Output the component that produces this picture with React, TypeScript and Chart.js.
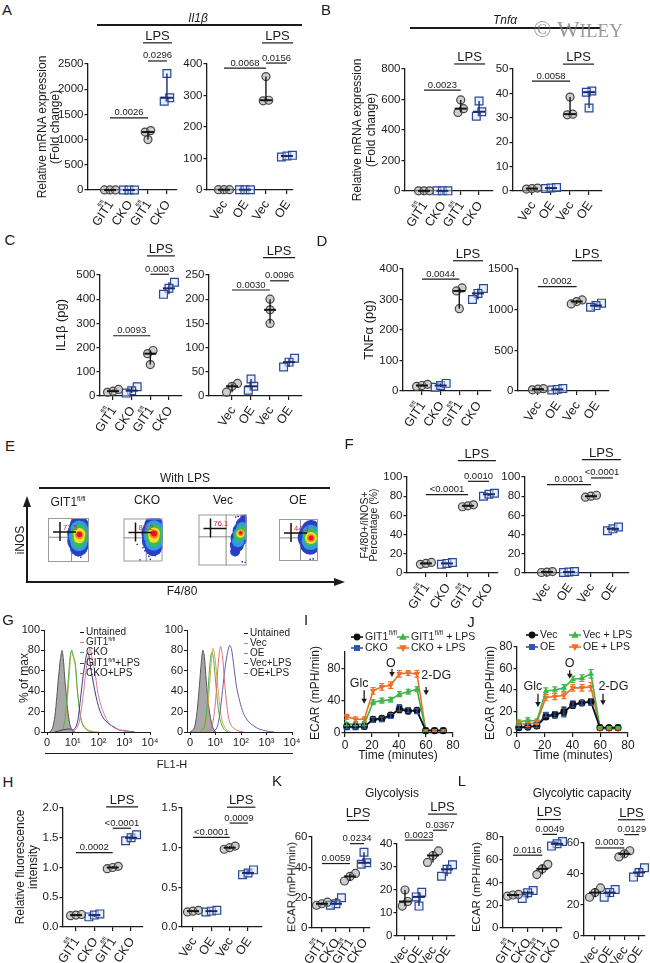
import React, { useEffect, useRef } from "react";
import { Chart, registerables } from "chart.js";

Chart.register(...registerables);

const FONT = "'Liberation Sans', Arial, Helvetica, sans-serif";
const INK = "#1b1b1b";

/* ================= category labels ================= */
const GIT_CATS = ["GIT1^fl/fl", "CKO", "GIT1^fl/fl", "CKO"];
const VEC_CATS = ["Vec", "OE", "Vec", "OE"];

/* ================= dot plots (3 replicates / group) ================= */
// A  Il1b mRNA
const A_GIT = [[1, 1, 1], [1, 1, 1], [1000, 1150, 1180], [2310, 1830, 1760]];
const A_VEC = [[1, 1, 1], [1, 1, 1], [360, 283, 285], [105, 108, 110]];
const A_GIT_P = [{ a: 0, b: 2, y: 1430, t: "0.0026" }, { a: 2, b: 3, y: 2560, t: "0.0296" }, { a: 1.74, b: 3.26, y: 2920, t: "LPS" }];
const A_VEC_P = [{ a: 0, b: 2, y: 387, t: "0.0068" }, { a: 2, b: 3, y: 403, t: "0.0156" }, { a: 1.81, b: 3.29, y: 467, t: "LPS" }];
// B  Tnfa mRNA
const B_GIT = [[1, 1, 1], [1, 1, 1], [597, 540, 515], [590, 520, 490]];
const B_VEC = [[0.8, 1, 1.2], [1, 1.2, 1.4], [38.5, 31.2, 31.5], [41, 40.5, 34]];
const B_GIT_P = [{ a: 0, b: 2, y: 662, t: "0.0023" }, { a: 1.64, b: 3.33, y: 833, t: "LPS" }];
const B_VEC_P = [{ a: 0, b: 2, y: 45, t: "0.0058" }, { a: 1.63, b: 3.26, y: 52, t: "LPS" }];
// C  IL1b (pg)
const C_GIT = [[15, 20, 27], [38, 22, 12], [188, 175, 130], [470, 445, 420]];
const C_VEC = [[26, 20, 8], [35, 20, 12], [200, 178, 150], [78, 70, 60]];
const C_GIT_P = [{ a: 0, b: 2, y: 249, t: "0.0093" }, { a: 2, b: 3, y: 503, t: "0.0003" }, { a: 1.82, b: 3.32, y: 579, t: "LPS" }];
const C_VEC_P = [{ a: 0, b: 2, y: 219, t: "0.0030" }, { a: 2, b: 3, y: 238, t: "0.0096" }, { a: 1.63, b: 3.32, y: 286, t: "LPS" }];
// D  TNFa (pg)
const D_GIT = [[15, 18, 22], [12, 18, 25], [338, 328, 270], [336, 320, 300]];
const D_VEC = [[15, 22, 28], [12, 20, 30], [1120, 1100, 1070], [1080, 1050, 1030]];
const D_GIT_P = [{ a: 0, b: 2, y: 367, t: "0.0044" }, { a: 1.66, b: 3.27, y: 427, t: "LPS" }];
const D_VEC_P = [{ a: 0, b: 2, y: 1283, t: "0.0002" }, { a: 1.76, b: 3.31, y: 1602, t: "LPS" }];
// F  F4/80+ iNOS+ percentage
const F_GIT = [[9, 10, 11], [9, 10, 11], [69, 70, 71], [80, 82, 83]];
const F_VEC = [[0.5, 1, 1.5], [0.5, 1, 1.5], [79, 80, 81], [44, 46, 48]];
const F_GIT_P = [{ a: 0, b: 2, y: 81.7, t: "<0.0001" }, { a: 2, b: 3, y: 95.5, t: "0.0010" }, { a: 1.52, b: 3.33, y: 117, t: "LPS" }];
const F_VEC_P = [{ a: 0, b: 2, y: 92, t: "0.0001" }, { a: 2, b: 3, y: 99, t: "<0.0001" }, { a: 1.59, b: 3.36, y: 118, t: "LPS" }];
// H  relative fluorescence
const H_GIT = [[0.19, 0.2, 0.21], [0.17, 0.2, 0.22], [0.98, 1.0, 1.02], [1.45, 1.5, 1.55]];
const H_VEC = [[0.19, 0.2, 0.21], [0.19, 0.2, 0.21], [0.98, 1.0, 1.02], [0.66, 0.68, 0.72]];
const H_GIT_P = [{ a: 0, b: 2, y: 1.25, t: "0.0002" }, { a: 2, b: 3, y: 1.66, t: "<0.0001" }, { a: 1.64, b: 3.38, y: 2.02, t: "LPS" }];
const H_VEC_P = [{ a: 0, b: 2, y: 1.13, t: "<0.0001" }, { a: 2, b: 3, y: 1.31, t: "0.0009" }, { a: 1.85, b: 3.4, y: 1.51, t: "LPS" }];
// K  glycolysis
const K_GIT = [[15, 16, 17], [20, 16, 15], [36, 34, 31], [50, 43, 42]];
const K_VEC = [[20, 15, 13], [19, 17, 13], [37, 35, 32], [31, 29, 26]];
const K_GIT_P = [{ a: 0, b: 2, y: 42.5, t: "0.0059" }, { a: 2, b: 3, y: 55.6, t: "0.0234" }, { a: 1.79, b: 3.36, y: 70.9, t: "LPS" }];
const K_VEC_P = [{ a: 0, b: 2, y: 41.7, t: "0.0023" }, { a: 2, b: 3, y: 46, t: "0.0367" }, { a: 1.64, b: 3.71, y: 53, t: "LPS" }];
// L  glycolytic capacity
const L_GIT = [[28, 29, 29.5], [33, 31, 26], [56, 52, 47], [76, 74, 72]];
const L_VEC = [[31, 28, 25], [30, 28, 25], [55, 53, 51], [44, 41, 38]];
const L_GIT_P = [{ a: 0, b: 2, y: 64, t: "0.0116" }, { a: 2, b: 3, y: 82.3, t: "0.0049" }, { a: 1.64, b: 3.27, y: 95.4, t: "LPS" }];
const L_VEC_P = [{ a: 0, b: 2, y: 56.8, t: "0.0003" }, { a: 2, b: 3, y: 65.4, t: "0.0129" }, { a: 1.57, b: 3.41, y: 75, t: "LPS" }];

/* ================= I / J : Seahorse ECAR ================= */
const SEAHORSE_TIME = [1.3, 7.8, 14.3, 20.8, 27.3, 33.8, 40.3, 46.8, 53.3, 59.8, 66.3, 72.8];
const I_GIT = [8, 8, 8, 17, 18, 22, 29, 27, 28, 3, 3, 3];
const I_CKO = [7, 7, 8, 16, 17, 21, 31, 28, 27, 3, 3, 3];
const I_GIT_LPS = [11, 11, 11, 38, 40, 41, 48, 51, 54, 3, 3, 3];
const I_CKO_LPS = [20, 17, 17, 52, 57, 59, 73, 74, 73, 3, 3, 3];
const I_GIT_SD = [2, 2, 2, 3, 3, 3, 4, 3, 3, 1, 1, 1];
const I_CKO_SD = [2, 2, 2, 3, 3, 3, 4, 3, 3, 1, 1, 1];
const I_GIT_LPS_SD = [2, 2, 2, 3, 3, 3, 3, 3, 3, 1, 1, 1];
const I_CKO_LPS_SD = [3, 3, 3, 4, 4, 4, 4, 3, 4, 1, 1, 1];
const J_VEC = [5, 5.5, 6.5, 15, 17, 20, 26, 28, 29, 5, 5, 5];
const J_OE = [6, 6, 7, 17, 17, 19, 27, 28, 29, 5, 4.5, 5];
const J_VEC_LPS = [10, 12, 11, 39, 40, 42, 50, 51, 55, 5, 5, 5];
const J_OE_LPS = [9, 8, 10, 33, 34, 35, 42, 42, 43, 4, 4, 4];
const J_VEC_SD = [2, 2, 2, 2, 3, 4, 3, 2, 3, 1, 1, 1];
const J_OE_SD = [2, 2, 2, 2, 3, 4, 3, 2, 3, 1, 1, 1];
const J_VEC_LPS_SD = [2, 2, 2, 3, 3, 3, 3, 3, 4, 1, 1, 1];
const J_OE_LPS_SD = [2, 2, 2, 3, 3, 3, 3, 3, 4, 1, 1, 1];
const I_NOTES = [
  { t: "Glc", x: 14.2, y0: 52.7, y1: 36.2, tx: 10.4, ty: 61 },
  { t: "O", x: 34.8, y0: 79.4, y1: 69.1, tx: 34, ty: 85.6 },
  { t: "2-DG", x: 60.1, y0: 56.8, y1: 46.5, tx: 67.6, ty: 71.2 },
];
const J_NOTES = [
  { t: "Glc", x: 15.1, y0: 36.6, y1: 24.2, tx: 11.5, ty: 42.8 },
  { t: "O", x: 38, y0: 58.3, y1: 50.5, tx: 38, ty: 64.5 },
  { t: "2-DG", x: 62, y0: 36.6, y1: 25.7, tx: 69.5, ty: 42.8 },
];

/* ================= G : FL1-H histograms (x = log10 decade) ================= */
const G_TICKS = [0, 1, 2, 3, 4];
const G_TICK_LABELS = ["0", "10¹", "10²", "10³", "10⁴"];
const G_L_UNST = [[0.1, 0], [0.2, 3], [0.3, 15], [0.38, 35], [0.45, 55], [0.52, 72], [0.58, 80], [0.63, 72], [0.68, 55], [0.75, 35], [0.82, 18], [0.9, 6], [1.0, 1], [1.1, 0]];
const G_L_GIT = [[0.5, 0], [0.6, 2], [0.7, 10], [0.8, 35], [0.88, 62], [0.95, 80], [1.02, 75], [1.08, 70], [1.15, 48], [1.25, 25], [1.35, 10], [1.5, 4], [1.7, 1], [2.0, 0]];
const G_L_CKO = [[0.5, 0], [0.62, 3], [0.72, 18], [0.82, 50], [0.9, 75], [0.96, 80], [1.03, 72], [1.1, 66], [1.18, 40], [1.28, 18], [1.4, 6], [1.6, 1], [1.8, 0]];
const G_L_GIT_LPS = [[0.3, 0], [0.6, 2], [0.9, 3], [1.0, 2], [1.1, 4], [1.2, 12], [1.3, 33], [1.4, 55], [1.48, 68], [1.55, 77], [1.62, 76], [1.7, 62], [1.8, 48], [1.9, 35], [2.0, 25], [2.1, 18], [2.2, 13], [2.4, 8], [2.6, 5], [2.8, 2], [3.1, 1], [3.4, 0]];
const G_L_CKO_LPS = [[0.9, 0], [1.1, 2], [1.25, 10], [1.4, 35], [1.5, 58], [1.58, 72], [1.67, 82], [1.75, 72], [1.86, 59], [1.95, 42], [2.05, 30], [2.15, 22], [2.3, 13], [2.5, 6], [2.7, 3], [3.0, 1], [3.3, 0]];
const G_R_UNST = [[0.0, 0], [0.15, 3], [0.25, 15], [0.35, 40], [0.42, 62], [0.5, 80], [0.56, 74], [0.62, 55], [0.7, 32], [0.8, 14], [0.9, 4], [1.0, 0]];
const G_R_VEC = [[0.4, 0], [0.55, 2], [0.65, 12], [0.75, 40], [0.83, 68], [0.9, 82], [0.97, 74], [1.05, 55], [1.15, 30], [1.25, 12], [1.4, 3], [1.6, 0]];
const G_R_OE = [[0.4, 0], [0.55, 4], [0.65, 20], [0.73, 50], [0.8, 72], [0.86, 78], [0.93, 70], [1.0, 50], [1.1, 25], [1.2, 10], [1.35, 2], [1.5, 0]];
const G_R_VEC_LPS = [[0.9, 0], [1.05, 4], [1.15, 15], [1.25, 35], [1.35, 58], [1.45, 75], [1.55, 85], [1.62, 82], [1.72, 64], [1.82, 45], [1.95, 30], [2.1, 18], [2.3, 10], [2.5, 6], [2.7, 3], [3.0, 1], [3.3, 0]];
const G_R_OE_LPS = [[0.6, 0], [0.8, 3], [0.9, 10], [1.0, 30], [1.08, 58], [1.15, 78], [1.2, 84], [1.27, 75], [1.35, 50], [1.45, 25], [1.55, 10], [1.7, 4], [1.9, 1], [2.1, 0]];
const G_L_LEGEND = ["Untained", "GIT1^fl/fl", "CKO", "GIT1^fl/fl^+LPS", "CKO+LPS"];
const G_R_LEGEND = ["Untained", "Vec", "OE", "Vec+LPS", "OE+LPS"];
const G_L_COLORS = ["#111111", "#e8866a", "#2fa57a", "#3a3a80", "#d4607a"];
const G_R_COLORS = ["#111111", "#e0873e", "#3aa66a", "#3a3a8a", "#e03a3a"];
const G_L_CURVE_COLORS = ["#555555", "#d9b13c", "#4caf50", "#3a3a88", "#d77a95"];
const G_R_CURVE_COLORS = ["#555555", "#d9a53c", "#4caf50", "#6a5aa8", "#d9707a"];

/* ================= E : flow density clouds [x, y, radius, level] ================= */
const E_TITLES = ["GIT1^fl/fl", "CKO", "Vec", "OE"];
const E_PCT = ["71.5", "83.2", "76.1", "44.3"];
const E_GATES = [[2.3, 2.25], [2.33, 2.2], [2.3, 2.25], [2.2, 2.2]];
const E_GIT_CLOUD = [
  [3.05, 3.25, 10, 0], [3.05, 2.6, 12, 0], [3.05, 1.95, 12, 0], [3.0, 1.35, 9, 0], [2.95, 0.95, 5, 0], [3.1, 3.6, 6, 0],
  [3.05, 2.95, 9, 1], [3.05, 2.35, 10.5, 1], [3.02, 1.75, 8.5, 1],
  [3.05, 2.75, 7.5, 2], [3.05, 2.25, 8, 2], [3.02, 1.85, 6, 2],
  [3.06, 2.55, 6, 3], [3.04, 2.2, 5.5, 3],
  [3.06, 2.45, 4.2, 4],
  [3.06, 2.5, 2.8, 5],
];
const E_CKO_CLOUD = [
  [3.12, 3.3, 10, 0], [3.12, 2.65, 12.5, 0], [3.12, 1.95, 12, 0], [3.08, 1.35, 9, 0], [3.0, 0.95, 5, 0], [3.2, 3.65, 6, 0],
  [3.12, 3.0, 9, 1], [3.12, 2.4, 10.5, 1], [3.1, 1.8, 8.5, 1],
  [3.13, 2.8, 7.5, 2], [3.13, 2.3, 8, 2], [3.1, 1.9, 6, 2],
  [3.13, 2.6, 6, 3], [3.12, 2.25, 5.5, 3],
  [3.13, 2.55, 4.5, 4],
  [3.13, 2.6, 3, 5],
];
const E_VEC_CLOUD = [
  [3.05, 1.1, 5, 0], [3.2, 1.6, 7, 0], [3.38, 2.15, 8.5, 0], [3.55, 2.7, 8.5, 0], [3.72, 3.2, 7.5, 0], [3.88, 3.65, 5, 0],
  [3.3, 1.9, 6, 1], [3.48, 2.45, 7, 1], [3.65, 2.95, 6, 1],
  [3.42, 2.3, 5.5, 2], [3.58, 2.75, 5, 2],
  [3.5, 2.5, 4.2, 3],
  [3.52, 2.55, 3, 4],
  [3.52, 2.55, 1.8, 5],
];
const E_OE_CLOUD = [
  [3.3, 2.95, 10, 0], [3.25, 2.25, 13, 0], [3.2, 1.55, 10, 0], [2.7, 2.1, 6, 0], [3.8, 2.5, 8, 0], [3.3, 3.3, 6, 0],
  [3.28, 2.6, 9, 1], [3.25, 1.9, 9, 1], [3.6, 2.3, 7, 1],
  [3.28, 2.35, 8, 2], [3.22, 1.95, 6, 2],
  [3.28, 2.2, 6, 3],
  [3.28, 2.2, 4, 4],
  [3.28, 2.2, 2.5, 5],
];
const E_GIT_SPARSE = [[2.9, 0.6], [3.2, 0.45]];
const E_CKO_SPARSE = [[2.0, 1.3], [2.2, 1.0], [2.45, 0.8], [1.7, 0.15], [2.75, 0.2], [3.25, 0.55], [1.4, 1.6], [2.6, 0.5]];
const E_VEC_SPARSE = [[3.3, 3.85], [3.55, 3.9], [3.8, 3.85], [3.65, 0.3], [3.9, 0.25], [3.1, 3.8]];
const E_OE_SPARSE = [[3.2, 0.15], [3.5, 0.2], [2.2, 2.0], [2.35, 1.6]];
const LEVEL_COLORS = ["#2b3fc2", "#2d9be8", "#3dbb4e", "#f2e12e", "#fb8b1e", "#e3161d"];

/* ================= panel layout ================= */
const DOT_PANELS = [
  { area: [88, 64, 177, 190], yMax: 2500, yStep: 500, xMin: -1.16, xMax: 3.53, cats: GIT_CATS, groups: A_GIT, marks: A_GIT_P },
  { area: [207, 64, 293, 190], yMax: 400, yStep: 100, xMin: -0.81, xMax: 3.29, cats: VEC_CATS, groups: A_VEC, marks: A_VEC_P },
  { area: [405, 69, 493, 191], yMax: 800, yStep: 200, xMin: -1.04, xMax: 3.76, cats: GIT_CATS, groups: B_GIT, marks: B_GIT_P },
  { area: [513, 69, 602, 191], yMax: 50, yStep: 10, xMin: -1.0, xMax: 3.68, cats: VEC_CATS, groups: B_VEC, marks: B_VEC_P },
  { area: [100, 275, 182, 396], yMax: 500, yStep: 100, xMin: -0.7, xMax: 3.7, cats: GIT_CATS, groups: C_GIT, marks: C_GIT_P },
  { area: [209, 275, 302, 396], yMax: 250, yStep: 50, xMin: -1.21, xMax: 3.68, cats: VEC_CATS, groups: C_VEC, marks: C_VEC_P },
  { area: [403, 269, 491, 391], yMax: 400, yStep: 100, xMin: -1.02, xMax: 3.7, cats: GIT_CATS, groups: D_GIT, marks: D_GIT_P },
  { area: [518, 269, 609, 391], yMax: 1500, yStep: 500, xMin: -1.03, xMax: 3.67, cats: VEC_CATS, groups: D_VEC, marks: D_VEC_P },
  { area: [407, 477, 498, 573], yMax: 100, yStep: 20, xMin: -0.9, xMax: 3.43, cats: GIT_CATS, groups: F_GIT, marks: F_GIT_P },
  { area: [525, 477, 629, 573], yMax: 100, yStep: 20, xMin: -1.0, xMax: 3.73, cats: VEC_CATS, groups: F_VEC, marks: F_VEC_P },
  { area: [63, 808, 143, 927], yMax: 2, yStep: 0.5, xMin: -0.71, xMax: 3.65, cats: GIT_CATS, groups: H_GIT, marks: H_GIT_P },
  { area: [182, 808, 262, 927], yMax: 1.5, yStep: 0.5, xMin: -0.6, xMax: 3.76, cats: VEC_CATS, groups: H_VEC, marks: H_VEC_P },
  { area: [312, 837, 370, 928], yMax: 60, yStep: 20, xMin: -0.71, xMax: 3.43, cats: GIT_CATS, groups: K_GIT, marks: K_GIT_P },
  { area: [397, 844, 455, 936], yMax: 40, yStep: 10, xMin: -0.57, xMax: 3.57, cats: VEC_CATS, groups: K_VEC, marks: K_VEC_P },
  { area: [503, 837, 562, 928], yMax: 80, yStep: 20, xMin: -0.68, xMax: 3.34, cats: GIT_CATS, groups: L_GIT, marks: L_GIT_P },
  { area: [584, 843, 645, 936], yMax: 60, yStep: 20, xMin: -0.75, xMax: 3.41, cats: VEC_CATS, groups: L_VEC, marks: L_VEC_P },
];

const ECAR_PANELS = [
  {
    area: [345, 652, 453, 733], yMax: 100, notes: I_NOTES, legX: [12, 58], legY: [-15, -4],
    series: [
      { lab: "GIT1^fl/fl", v: I_GIT, sd: I_GIT_SD, color: "#111111", shape: "circle" },
      { lab: "CKO", v: I_CKO, sd: I_CKO_SD, color: "#2c5aa8", shape: "rect" },
      { lab: "GIT1^fl/fl^ + LPS", v: I_GIT_LPS, sd: I_GIT_LPS_SD, color: "#3fb54a", shape: "triangle" },
      { lab: "CKO + LPS", v: I_CKO_LPS, sd: I_CKO_LPS_SD, color: "#f36d21", shape: "down" },
    ],
  },
  {
    area: [517, 647, 628, 733], yMax: 80, notes: J_NOTES, legX: [15, 58], legY: [-12, 0],
    series: [
      { lab: "Vec", v: J_VEC, sd: J_VEC_SD, color: "#111111", shape: "circle" },
      { lab: "OE", v: J_OE, sd: J_OE_SD, color: "#2c5aa8", shape: "rect" },
      { lab: "Vec + LPS", v: J_VEC_LPS, sd: J_VEC_LPS_SD, color: "#3fb54a", shape: "triangle" },
      { lab: "OE + LPS", v: J_OE_LPS, sd: J_OE_LPS_SD, color: "#f36d21", shape: "down" },
    ],
  },
];

const HIST_PANELS = [
  { area: [44, 630, 150, 732], curves: [G_L_CKO_LPS, G_L_GIT_LPS, G_L_CKO, G_L_GIT, G_L_UNST], colors: [G_L_CURVE_COLORS[4], G_L_CURVE_COLORS[3], G_L_CURVE_COLORS[2], G_L_CURVE_COLORS[1], G_L_CURVE_COLORS[0]] },
  { area: [187, 630, 292, 732], curves: [G_R_OE_LPS, G_R_VEC_LPS, G_R_OE, G_R_VEC, G_R_UNST], colors: [G_R_CURVE_COLORS[4], G_R_CURVE_COLORS[3], G_R_CURVE_COLORS[2], G_R_CURVE_COLORS[1], G_R_CURVE_COLORS[0]] },
];

const FLOW_PANELS = [
  { box: [38, 508, 99, 572], cloud: E_GIT_CLOUD, sparse: E_GIT_SPARSE },
  { box: [113, 508, 173, 572], cloud: E_CKO_CLOUD, sparse: E_CKO_SPARSE },
  { box: [192, 508, 253, 572], cloud: E_VEC_CLOUD, sparse: E_VEC_SPARSE },
  { box: [268, 508, 329, 572], cloud: E_OE_CLOUD, sparse: E_OE_SPARSE },
];

/* ================= helpers ================= */
function ChartBox({ x, y, w, h, make }: any) {
  const ref = useRef<HTMLCanvasElement>(null);
  useEffect(() => {
    const ch = make(ref.current);
    return () => ch.destroy();
  }, []);
  return <canvas ref={ref} width={w} height={h} style={{ position: "absolute", left: x, top: y, width: w, height: h }} />;
}

function drawSupText(ctx: any, str: string, x: number, y: number, size: number) {
  const parts = str.split("^");
  ctx.font = `${size}px ${FONT}`;
  const w0 = ctx.measureText(parts[0]).width;
  ctx.font = `${size * 0.6}px ${FONT}`;
  const w1 = parts[1] ? ctx.measureText(parts[1]).width : 0;
  ctx.font = `${size}px ${FONT}`;
  ctx.textAlign = "left";
  ctx.fillText(parts[0], x, y);
  if (parts[1]) {
    ctx.font = `${size * 0.6}px ${FONT}`;
    ctx.fillText(parts[1], x + w0 + 0.5, y - size * 0.45);
    ctx.font = `${size}px ${FONT}`;
  }
  if (parts[2]) ctx.fillText(parts[2], x + w0 + w1 + 1, y);
}

function spread(vals: number[], g: number, thr: number, dx: number) {
  const idx = vals.map((_, i) => i).sort((a, b) => vals[a] - vals[b]);
  const off = vals.map(() => 0);
  let cur = [idx[0]];
  const clusters: number[][] = [];
  for (let k = 1; k < idx.length; k++) {
    if (vals[idx[k]] - vals[idx[k - 1]] < thr) cur.push(idx[k]);
    else { clusters.push(cur); cur = [idx[k]]; }
  }
  clusters.push(cur);
  clusters.forEach((c) => c.forEach((i, j) => { off[i] = (j - (c.length - 1) / 2) * dx; }));
  return vals.map((v, i) => ({ x: g + off[i], y: v }));
}

/* ================= dot plot ================= */
const PADL = 42, PADT = 52, PADR = 8, PADB = 50, XH = 5;
const LABEL_ANGLE = (56 * Math.PI) / 180;

function makeDot(c: any, p: any) {
  const [l, t, r, b] = p.area;
  const valPerPx = p.yMax / (b - t);
  const catPerPx = (p.xMax - p.xMin) / (r - l);
  const datasets = p.groups.map((vals: number[], g: number) => {
    const circ = g % 2 === 0;
    return {
      label: p.cats[g],
      data: spread(vals, g, 7 * valPerPx, 5.5 * catPerPx),
      pointStyle: circ ? "circle" : "rect",
      pointRadius: circ ? 4 : 5.5,
      pointBackgroundColor: circ ? "rgba(165,165,165,0.55)" : "rgba(220,228,248,0.55)",
      pointBorderColor: circ ? "#454545" : "#27479a",
      pointBorderWidth: 1.2,
      showLine: false,
      clip: false,
    };
  });
  const extras = {
    id: "dotExtras",
    afterDatasetsDraw(chart: any) {
      const { ctx } = chart;
      const xs = chart.scales.x, ys = chart.scales.y;
      ctx.save();
      p.groups.forEach((vals: number[], g: number) => {
        const s = [...vals].sort((a, b) => a - b);
        const n = s.length;
        const med = n % 2 ? s[(n - 1) / 2] : (s[n / 2 - 1] + s[n / 2]) / 2;
        const x = xs.getPixelForValue(g);
        ctx.strokeStyle = g % 2 === 0 ? "#151515" : "#1a2a6c";
        ctx.lineWidth = 1.4;
        ctx.beginPath();
        ctx.moveTo(x, ys.getPixelForValue(s[0]));
        ctx.lineTo(x, ys.getPixelForValue(s[n - 1]));
        ctx.stroke();
        ctx.lineWidth = 2;
        const ym = ys.getPixelForValue(med);
        ctx.beginPath();
        ctx.moveTo(x - 6, ym);
        ctx.lineTo(x + 6, ym);
        ctx.stroke();
      });
      ctx.restore();
    },
    afterDraw(chart: any) {
      const { ctx, chartArea } = chart;
      const xs = chart.scales.x, ys = chart.scales.y;
      ctx.save();
      ctx.fillStyle = INK;
      ctx.strokeStyle = INK;
      ctx.lineWidth = 1.2;
      p.marks.forEach((m: any) => {
        const x1 = xs.getPixelForValue(m.a), x2 = xs.getPixelForValue(m.b);
        const y = ys.getPixelForValue(m.y);
        ctx.beginPath();
        ctx.moveTo(x1, y);
        ctx.lineTo(x2, y);
        ctx.stroke();
        const big = m.t === "LPS";
        ctx.font = `${big ? 13 : 9.5}px ${FONT}`;
        ctx.textAlign = "center";
        ctx.textBaseline = "alphabetic";
        ctx.fillText(m.t, (x1 + x2) / 2, y - (big ? 3 : 2.5));
      });
      // rotated category labels
      ctx.textBaseline = "middle";
      p.cats.forEach((lab: string, i: number) => {
        const x = xs.getPixelForValue(i);
        const [main, sup] = lab.split("^");
        ctx.save();
        ctx.translate(x + 1, chartArea.bottom + 12);
        ctx.rotate(-LABEL_ANGLE);
        ctx.font = `12.5px ${FONT}`;
        ctx.textAlign = "right";
        ctx.fillText(main, 0, 0);
        if (sup) {
          ctx.font = `5.5px ${FONT}`;
          ctx.textAlign = "center";
          ctx.fillText(sup, -7, -7.5);
        }
        ctx.restore();
      });
      ctx.restore();
    },
  };
  return new Chart(c, {
    type: "scatter",
    data: { datasets },
    options: {
      animation: false,
      responsive: false,
      events: [],
      layout: { padding: { left: 0, top: PADT, right: PADR, bottom: PADB - XH } },
      plugins: { legend: { display: false }, tooltip: { enabled: false } },
      scales: {
        x: {
          type: "linear", min: p.xMin, max: p.xMax,
          afterBuildTicks: (s: any) => { s.ticks = p.groups.map((_: any, i: number) => ({ value: i })); },
          ticks: { display: false },
          grid: { drawOnChartArea: false, tickLength: 4, color: INK, lineWidth: 1.2 },
          border: { color: INK, width: 1.3 },
          afterFit: (s: any) => { s.height = XH; s.paddingLeft = 0; s.paddingRight = 0; },
        },
        y: {
          min: 0, max: p.yMax,
          ticks: {
            stepSize: p.yStep, color: INK, padding: 1, font: { family: FONT, size: 11.5 },
            callback: (v: any) => (p.yStep < 1 ? Number(v).toFixed(1) : String(v)),
          },
          grid: { drawOnChartArea: false, tickLength: 3.5, color: INK, lineWidth: 1.2 },
          border: { color: INK, width: 1.3 },
          afterFit: (s: any) => { s.width = PADL; s.paddingTop = 0; s.paddingBottom = 0; },
        },
      },
    } as any,
    plugins: [extras],
  } as any);
}

function DotPlot({ p }: any) {
  const [l, t, r, b] = p.area;
  return <ChartBox x={l - PADL} y={t - PADT} w={r - l + PADL + PADR} h={b - t + PADT + PADB} make={(c: any) => makeDot(c, p)} />;
}

/* ================= ECAR line plots ================= */
const EPADL = 40, EPADT = 32, EPADR = 34, EPADB = 32, EXH = 18;

function drawMark(ctx: any, shape: string, x: number, y: number, color: string) {
  ctx.fillStyle = color;
  ctx.beginPath();
  if (shape === "circle") ctx.arc(x, y, 3.4, 0, Math.PI * 2);
  else if (shape === "rect") ctx.rect(x - 3, y - 3, 6, 6);
  else if (shape === "triangle") { ctx.moveTo(x, y - 4); ctx.lineTo(x + 3.8, y + 2.8); ctx.lineTo(x - 3.8, y + 2.8); ctx.closePath(); }
  else { ctx.moveTo(x, y + 4); ctx.lineTo(x + 3.8, y - 2.8); ctx.lineTo(x - 3.8, y - 2.8); ctx.closePath(); }
  ctx.fill();
}

function makeEcar(c: any, p: any) {
  const datasets = p.series.map((s: any) => ({
    data: SEAHORSE_TIME.map((x, i) => ({ x, y: s.v[i] })),
    borderColor: s.color,
    backgroundColor: s.color,
    borderWidth: 1.6,
    pointStyle: s.shape === "down" ? "triangle" : s.shape,
    rotation: s.shape === "down" ? 180 : 0,
    pointRotation: s.shape === "down" ? 180 : 0,
    pointRadius: s.shape === "rect" ? 4.2 : 3.6,
    pointBackgroundColor: s.color,
    pointBorderColor: s.color,
    pointBorderWidth: 0,
    tension: 0,
    fill: false,
    clip: false,
  }));
  const extras = {
    id: "ecarExtras",
    afterDatasetsDraw(chart: any) {
      const { ctx } = chart;
      const xs = chart.scales.x, ys = chart.scales.y;
      ctx.save();
      ctx.lineWidth = 1.2;
      p.series.forEach((s: any) => {
        ctx.strokeStyle = s.color;
        SEAHORSE_TIME.forEach((t, i) => {
          const x = xs.getPixelForValue(t);
          const y1 = ys.getPixelForValue(s.v[i] + s.sd[i]);
          const y2 = ys.getPixelForValue(s.v[i] - s.sd[i]);
          ctx.beginPath();
          ctx.moveTo(x, y1); ctx.lineTo(x, y2);
          ctx.moveTo(x - 2.5, y1); ctx.lineTo(x + 2.5, y1);
          ctx.moveTo(x - 2.5, y2); ctx.lineTo(x + 2.5, y2);
          ctx.stroke();
        });
      });
      ctx.restore();
    },
    afterDraw(chart: any) {
      const { ctx, chartArea } = chart;
      const xs = chart.scales.x, ys = chart.scales.y;
      ctx.save();
      ctx.fillStyle = INK;
      ctx.strokeStyle = INK;
      ctx.lineWidth = 1.3;
      p.notes.forEach((n: any) => {
        const x = xs.getPixelForValue(n.x);
        const y0 = ys.getPixelForValue(n.y0), y1 = ys.getPixelForValue(n.y1);
        ctx.beginPath(); ctx.moveTo(x, y0); ctx.lineTo(x, y1 - 4); ctx.stroke();
        ctx.beginPath(); ctx.moveTo(x - 2.8, y1 - 5); ctx.lineTo(x + 2.8, y1 - 5); ctx.lineTo(x, y1); ctx.closePath(); ctx.fill();
        ctx.font = `12.5px ${FONT}`;
        ctx.textAlign = "center";
        ctx.textBaseline = "middle";
        ctx.fillText(n.t, xs.getPixelForValue(n.tx), ys.getPixelForValue(n.ty));
      });
      ctx.textBaseline = "middle";
      p.series.forEach((s: any, k: number) => {
        const mx = chartArea.left + p.legX[Math.floor(k / 2)];
        const my = chartArea.top + p.legY[k % 2];
        ctx.strokeStyle = s.color;
        ctx.lineWidth = 1.6;
        ctx.beginPath(); ctx.moveTo(mx - 6, my); ctx.lineTo(mx + 6, my); ctx.stroke();
        drawMark(ctx, s.shape, mx, my, s.color);
        ctx.fillStyle = INK;
        drawSupText(ctx, s.lab, mx + 8, my + 0.5, 10.5);
      });
      ctx.restore();
    },
  };
  return new Chart(c, {
    type: "line",
    data: { datasets },
    options: {
      animation: false,
      responsive: false,
      events: [],
      layout: { padding: { left: 0, top: EPADT, right: EPADR, bottom: EPADB - EXH } },
      plugins: { legend: { display: false }, tooltip: { enabled: false } },
      scales: {
        x: {
          type: "linear", min: 0, max: 80,
          ticks: { stepSize: 20, color: INK, padding: 1, maxRotation: 0, font: { family: FONT, size: 12 } },
          grid: { drawOnChartArea: false, tickLength: 4, color: INK, lineWidth: 1.2 },
          border: { color: INK, width: 1.3 },
          afterFit: (s: any) => { s.height = EXH; s.paddingLeft = 0; s.paddingRight = 0; },
        },
        y: {
          min: 0, max: p.yMax,
          ticks: { stepSize: 20, color: INK, padding: 1, font: { family: FONT, size: 12 } },
          grid: { drawOnChartArea: false, tickLength: 3.5, color: INK, lineWidth: 1.2 },
          border: { color: INK, width: 1.3 },
          afterFit: (s: any) => { s.width = EPADL; s.paddingTop = 0; s.paddingBottom = 0; },
        },
      },
    } as any,
    plugins: [extras],
  } as any);
}

function EcarPlot({ p }: any) {
  const [l, t, r, b] = p.area;
  return <ChartBox x={l - EPADL} y={t - EPADT} w={r - l + EPADL + EPADR} h={b - t + EPADT + EPADB} make={(c: any) => makeEcar(c, p)} />;
}

/* ================= histograms ================= */
const HPADL = 40, HPADT = 8, HPADR = 10, HPADB = 20, HXH = 16;

function makeHist(c: any, p: any) {
  const n = p.curves.length;
  const datasets = p.curves.map((pts: number[][], k: number) => {
    const gray = k === n - 1;
    return {
      data: pts.map(([x, y]) => ({ x, y })),
      borderColor: p.colors[k],
      borderWidth: 1,
      pointRadius: 0,
      tension: 0.3,
      fill: gray ? "origin" : false,
      backgroundColor: gray ? "#a8a8a8" : "transparent",
      clip: 0,
    };
  });
  return new Chart(c, {
    type: "line",
    data: { datasets },
    options: {
      animation: false,
      responsive: false,
      events: [],
      layout: { padding: { left: 0, top: HPADT, right: HPADR, bottom: HPADB - HXH } },
      plugins: { legend: { display: false }, tooltip: { enabled: false } },
      scales: {
        x: {
          type: "linear", min: -0.12, max: 4,
          afterBuildTicks: (s: any) => { s.ticks = G_TICKS.map((v) => ({ value: v })); },
          ticks: { color: INK, padding: 1, maxRotation: 0, font: { family: FONT, size: 11 }, callback: (v: any) => G_TICK_LABELS[G_TICKS.indexOf(Number(v))] },
          grid: { drawOnChartArea: false, tickLength: 3, color: INK, lineWidth: 1 },
          border: { color: INK, width: 1 },
          afterFit: (s: any) => { s.height = HXH; s.paddingLeft = 0; s.paddingRight = 0; },
        },
        y: {
          min: 0, max: 100,
          ticks: { stepSize: 20, color: INK, padding: 1, font: { family: FONT, size: 11 } },
          grid: { drawOnChartArea: false, tickLength: 3, color: INK, lineWidth: 1 },
          border: { color: INK, width: 1 },
          afterFit: (s: any) => { s.width = HPADL; s.paddingTop = 0; s.paddingBottom = 0; },
        },
      },
    } as any,
  } as any);
}

function HistPlot({ p }: any) {
  const [l, t, r, b] = p.area;
  return <ChartBox x={l - HPADL} y={t - HPADT} w={r - l + HPADL + HPADR} h={b - t + HPADT + HPADB} make={(c: any) => makeHist(c, p)} />;
}

/* ================= flow density plots ================= */
function makeFlow(c: any, p: any, i: number) {
  const datasets: any[] = [0, 1, 2, 3, 4, 5].map((lv) => ({
    data: p.cloud.filter((d: number[]) => d[3] === lv).map(([x, y, r]: number[]) => ({ x, y, r })),
    backgroundColor: LEVEL_COLORS[lv],
    borderWidth: 0,
    order: 10 - lv,
    clip: 0,
  }));
  datasets.push({
    data: p.sparse.map(([x, y]: number[]) => ({ x, y, r: 0.9 })),
    backgroundColor: LEVEL_COLORS[0],
    borderWidth: 0,
    order: 20,
    clip: 0,
  });
  const [gx, gy] = E_GATES[i];
  const extras = {
    id: "flowExtras",
    beforeDatasetsDraw(chart: any) {
      const { ctx, chartArea: a } = chart;
      const xs = chart.scales.x, ys = chart.scales.y;
      ctx.save();
      ctx.strokeStyle = "#8a8a8a";
      ctx.lineWidth = 1;
      ctx.beginPath();
      ctx.moveTo(xs.getPixelForValue(gx), a.top); ctx.lineTo(xs.getPixelForValue(gx), a.bottom);
      ctx.moveTo(a.left, ys.getPixelForValue(gy)); ctx.lineTo(a.right, ys.getPixelForValue(gy));
      ctx.stroke();
      ctx.restore();
    },
    afterDraw(chart: any) {
      const { ctx, chartArea: a } = chart;
      ctx.save();
      ctx.strokeStyle = "#9a9a9a";
      ctx.lineWidth = 1;
      ctx.strokeRect(a.left + 0.5, a.top + 0.5, a.right - a.left - 1, a.bottom - a.top - 1);
      ctx.strokeStyle = "#111";
      ctx.lineWidth = 1.5;
      ctx.beginPath();
      ctx.moveTo(a.left + 12, a.top + 4); ctx.lineTo(a.left + 12, a.top + 23);
      ctx.moveTo(a.left + 5, a.top + 14); ctx.lineTo(a.left + 28, a.top + 14);
      ctx.stroke();
      ctx.fillStyle = "#d0203a";
      ctx.font = `7.5px ${FONT}`;
      ctx.textAlign = "left";
      ctx.textBaseline = "middle";
      ctx.fillText(E_PCT[i], a.left + 15, a.top + 9.5);
      ctx.restore();
    },
  };
  return new Chart(c, {
    type: "bubble",
    data: { datasets },
    options: {
      animation: false,
      responsive: false,
      events: [],
      layout: { padding: 2 },
      plugins: { legend: { display: false }, tooltip: { enabled: false } },
      scales: {
        x: { type: "linear", min: 0, max: 4, display: false },
        y: { type: "linear", min: 0, max: 4, display: false },
      },
    } as any,
    plugins: [extras],
  } as any);
}

function FlowPlot({ p, i }: any) {
  const [l, t, r, b] = p.box;
  return <ChartBox x={l - 2} y={t - 2} w={r - l + 4} h={b - t + 4} make={(c: any) => makeFlow(c, p, i)} />;
}

/* ================= html text ================= */
function Sup({ s }: { s: string }) {
  const parts = s.split("^");
  if (parts.length === 1) return <>{s}</>;
  return (
    <>
      {parts[0]}
      <span style={{ fontSize: "0.55em", position: "relative", top: "-0.75em" }}>{parts[1]}</span>
      {parts[2] || ""}
    </>
  );
}

function T({ x, y, s = 12, rot = false, it = false, color, family, children }: any) {
  return (
    <div
      style={{
        position: "absolute", left: x, top: y, fontSize: s, lineHeight: 1, whiteSpace: "nowrap",
        fontStyle: it ? "italic" : "normal", color: color || INK, fontFamily: family || FONT,
        transform: `translate(-50%, -50%)${rot ? " rotate(-90deg)" : ""}`,
      }}
    >
      {children}
    </div>
  );
}

function HL({ x1, x2, y, w = 1.2 }: any) {
  return <div style={{ position: "absolute", left: x1, top: y - w / 2, width: x2 - x1, height: w, background: INK }} />;
}

function HistLegend({ x, ys, labels, colors }: any) {
  return (
    <>
      {labels.map((lab: string, k: number) => (
        <div key={k} style={{ position: "absolute", left: x, top: ys[k], transform: "translateY(-50%)", fontSize: 10, lineHeight: 1, whiteSpace: "nowrap", fontFamily: FONT, color: INK }}>
          <span style={{ display: "inline-block", width: 4, height: 1.6, background: colors[k], verticalAlign: "middle", marginRight: 2 }} />
          <Sup s={lab} />
        </div>
      ))}
    </>
  );
}

const LETTERS = [
  ["A", 7, 9], ["B", 326, 9], ["C", 10, 239], ["D", 322, 240], ["E", 10, 445], ["F", 349, 443],
  ["G", 8, 619], ["I", 306, 619], ["J", 471, 621], ["H", 8, 781], ["K", 277, 780], ["L", 462, 780],
];

export default function App() {
  return (
    <div style={{ position: "absolute", left: 0, top: 0, width: 650, height: 963, background: "#fff", overflow: "hidden", fontFamily: FONT, color: INK }}>
      {DOT_PANELS.map((p, i) => <DotPlot key={"d" + i} p={p} />)}
      {ECAR_PANELS.map((p, i) => <EcarPlot key={"e" + i} p={p} />)}
      {HIST_PANELS.map((p, i) => <HistPlot key={"h" + i} p={p} />)}
      {FLOW_PANELS.map((p, i) => <FlowPlot key={"f" + i} p={p} i={i} />)}

      {LETTERS.map(([t, x, y]: any) => <T key={t} x={x} y={y} s={15}>{t}</T>)}

      {/* A / B headers */}
      <T x={198} y={18} s={12} it>Il1β</T>
      <HL x1={97} x2={302} y={25} />
      <T x={505} y={20} s={12} it>Tnfα</T>
      <HL x1={410} x2={600} y={28} />
      <T x={578} y={29} s={24} color="rgba(120,120,120,0.75)" family="'Liberation Serif', 'DejaVu Serif', serif">
        © W<span style={{ fontSize: 19 }}>ILEY</span>
      </T>

      {/* y titles */}
      <T x={42} y={127} s={12} rot>Relative mRNA expression</T>
      <T x={55} y={127} s={12} rot>(Fold change)</T>
      <T x={357} y={130} s={12} rot>Relative mRNA expression</T>
      <T x={371} y={130} s={12} rot>(Fold change)</T>
      <T x={60} y={325} s={13} rot>IL1β (pg)</T>
      <T x={368} y={330} s={13} rot>TNFα (pg)</T>
      <T x={364} y={525} s={10.5} rot>F4/80+/iNOS+</T>
      <T x={373} y={525} s={10.5} rot>Percentage (%)</T>
      <T x={24} y={678} s={12} rot>% of max</T>
      <T x={315} y={693} s={12} rot>ECAR (mPH/min)</T>
      <T x={490} y={693} s={12} rot>ECAR (mPH/min)</T>
      <T x={20} y={867} s={12} rot>Relative fluorescence</T>
      <T x={33} y={867} s={12} rot>intensity</T>
      <T x={292} y={887} s={11.5} rot>ECAR (mPH/min)</T>
      <T x={477} y={887} s={11.5} rot>ECAR (mPH/min)</T>

      {/* x titles */}
      <T x={398} y={755} s={12}>Time (minutes)</T>
      <T x={573} y={755} s={12}>Time (minutes)</T>
      <T x={172} y={764} s={11}>FL1-H</T>
      <HL x1={45} x2={293} y={753} w={1} />
      <T x={392} y={793} s={12}>Glycolysis</T>
      <T x={582} y={793} s={12}>Glycolytic capacity</T>

      {/* E panel */}
      <T x={185} y={478} s={12}>With LPS</T>
      <HL x1={39} x2={330} y={488} />
      {E_TITLES.map((t, i) => (
        <T key={"et" + i} x={[68, 147, 223, 298][i]} y={[502, 500, 500, 500][i]} s={12}><Sup s={t} /></T>
      ))}
      <div style={{ position: "absolute", left: 26, top: 505, width: 1.6, height: 78, background: INK }} />
      <div style={{ position: "absolute", left: 22.8, top: 496, width: 0, height: 0, borderLeft: "4px solid transparent", borderRight: "4px solid transparent", borderBottom: "11px solid " + INK }} />
      <div style={{ position: "absolute", left: 26, top: 581.2, width: 310, height: 1.6, background: INK }} />
      <div style={{ position: "absolute", left: 334, top: 578, width: 0, height: 0, borderTop: "4px solid transparent", borderBottom: "4px solid transparent", borderLeft: "11px solid " + INK }} />
      <T x={20} y={540} s={12} rot>iNOS</T>
      <T x={182} y={591} s={12}>F4/80</T>

      {/* G legends */}
      <HistLegend x={80} ys={[632, 642, 652, 663, 673]} labels={G_L_LEGEND} colors={G_L_COLORS} />
      <HistLegend x={244} ys={[633, 643, 653, 663, 673]} labels={G_R_LEGEND} colors={G_R_COLORS} />
    </div>
  );
}
